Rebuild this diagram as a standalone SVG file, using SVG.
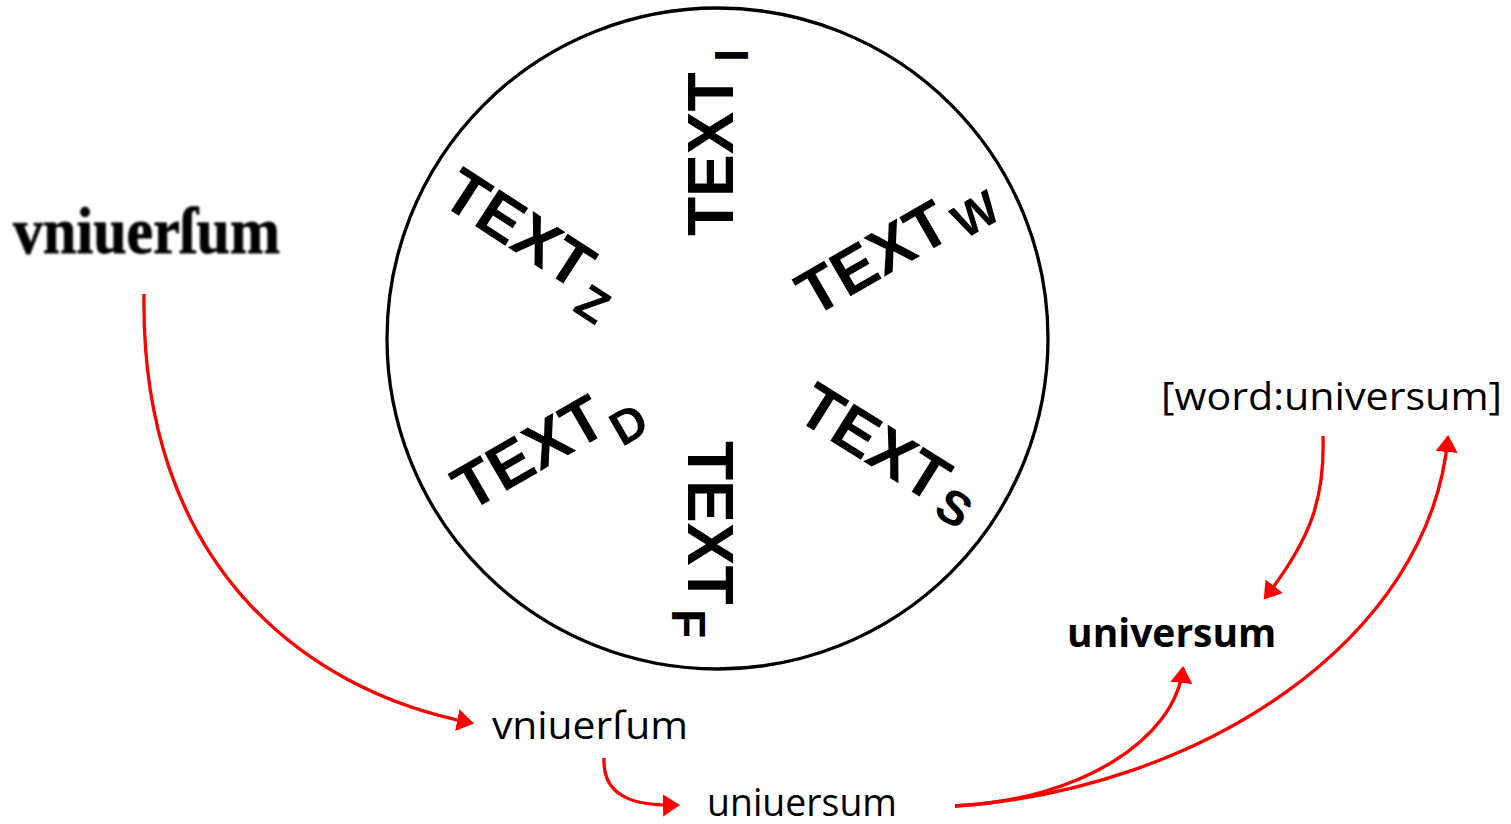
<svg xmlns="http://www.w3.org/2000/svg" width="1511" height="824" viewBox="0 0 1511 824">
<style>
.lbl{font-family:"Liberation Sans",Arial,sans-serif;font-weight:bold;font-size:64px;fill:#000}
.sub{font-size:48px}
.cal{font-family:"Open Sans","Noto Sans",sans-serif;font-size:39px;fill:#000}
.conn{fill:none;stroke:#FF0000;stroke-width:3.3}
</style>
<defs>
<marker id="ah" markerUnits="userSpaceOnUse" markerWidth="20" markerHeight="24" refX="15" refY="11" orient="auto">
<path d="M0,0 L17,11 L0,22 z" fill="#FF0000"/>
</marker>
<filter id="blur" x="-5%" y="-20%" width="110%" height="140%"><feGaussianBlur stdDeviation="1.1"/></filter>
</defs>
<rect width="1511" height="824" fill="#fff"/>

<g id="circle">
<circle cx="717.5" cy="338.5" r="330.5" fill="none" stroke="#000" stroke-width="3.3"/>
</g>

<g id="textI" transform="translate(733,236) rotate(-90)"><text class="lbl" x="0" y="0">TEXT<tspan class="sub" font-size="52" x="174" y="15">I</tspan></text></g>
<g id="textF" transform="translate(688,441) rotate(90)"><text class="lbl" x="0" y="0">TEXT<tspan class="sub" font-size="46" x="168" y="16">F</tspan></text></g>
<g id="textW" transform="translate(813,318) rotate(-30)"><text class="lbl" x="0" y="0">TEXT<tspan class="sub" x="170" y="8">W</tspan></text></g>
<g id="textZ" transform="translate(438.6,202.4) rotate(33)"><text class="lbl" x="0" y="0">TEXT<tspan class="sub" x="170" y="18">Z</tspan></text></g>
<g id="textD" transform="translate(469,512.5) rotate(-30)"><text class="lbl" x="0" y="0">TEXT<tspan class="sub" x="165" y="20">D</tspan></text></g>
<g id="textS" transform="translate(793.5,417.7) rotate(32)"><text class="lbl" x="0" y="0">TEXT<tspan class="sub" x="168" y="8">S</tspan></text></g>

<g id="scan">
<text x="13" y="253" font-family="'Liberation Serif','DejaVu Serif',serif" font-weight="bold" font-size="66" textLength="267" lengthAdjust="spacingAndGlyphs" fill="#000" stroke="#000" stroke-width="0.8" filter="url(#blur)">vniuerſum</text>
</g>
<g id="vniuerfum"><text class="cal" x="492" y="739" font-size="41.5" textLength="196" lengthAdjust="spacingAndGlyphs">vniuerſum</text></g>
<g id="uniuersum"><text class="cal" x="707" y="816" font-size="37.5" textLength="190" lengthAdjust="spacingAndGlyphs">uniuersum</text></g>
<g id="universum"><text class="cal" x="1067" y="647" font-size="38" font-weight="bold">universum</text></g>
<g id="word"><text class="cal" x="1161" y="410" font-size="41" textLength="341" lengthAdjust="spacingAndGlyphs">[word:universum]</text></g>

<g id="connectors">
<path class="conn" marker-end="url(#ah)" d="M144,294 C140,560 300,690 472,723"/>
<path class="conn" marker-end="url(#ah)" d="M604,758 C602,800 640,806 678,805"/>
<path class="conn" marker-end="url(#ah)" d="M955,806 C1080,800 1175,740 1183,668"/>
<path class="conn" marker-end="url(#ah)" d="M955,806 C1200,790 1430,640 1448,437"/>
<path class="conn" marker-end="url(#ah)" d="M1323,436 C1325,500 1310,540 1265,598"/>
</g>
</svg>
